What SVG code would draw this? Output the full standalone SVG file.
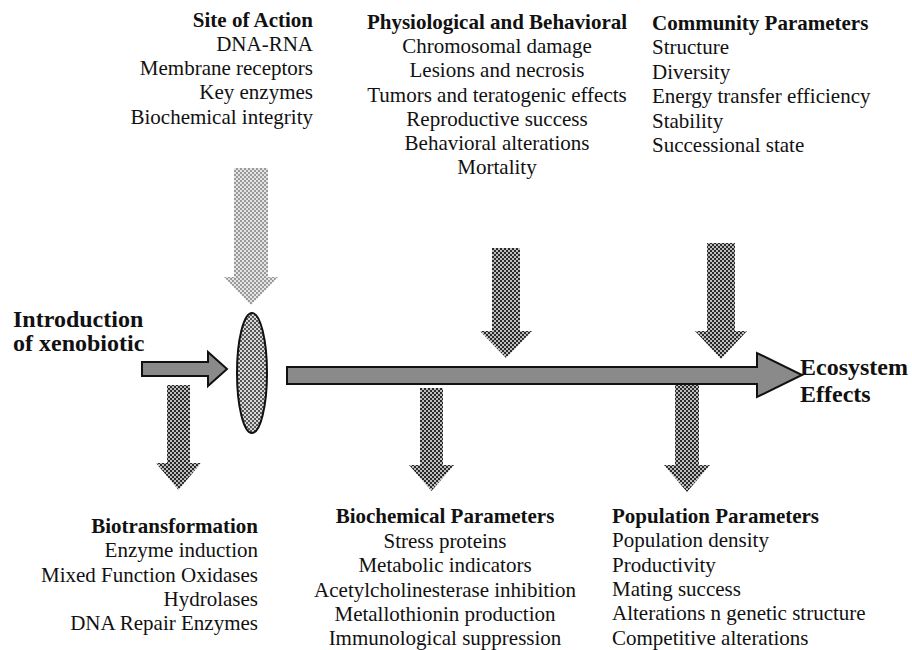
<svg xmlns="http://www.w3.org/2000/svg" width="912" height="650" viewBox="0 0 912 650" font-family="'Liberation Serif', 'Times New Roman', Times, serif">
  <defs>
    <!-- dithered fills for the block arrows -->
    <pattern id="chkDark" width="4" height="4" patternUnits="userSpaceOnUse">
      <rect width="4" height="4" fill="#bdbdbd"/>
      <rect width="2" height="2" fill="#2a2a2a"/>
      <rect x="2" y="2" width="2" height="2" fill="#2a2a2a"/>
    </pattern>
    <pattern id="chkLight" width="4" height="4" patternUnits="userSpaceOnUse">
      <rect width="4" height="4" fill="#e4e4e4"/>
      <rect width="2" height="2" fill="#9a9a9a"/>
      <rect x="2" y="2" width="2" height="2" fill="#9a9a9a"/>
    </pattern>
    <pattern id="chkMid" width="4" height="4" patternUnits="userSpaceOnUse">
      <rect width="4" height="4" fill="#d8d8d8"/>
      <rect width="2" height="2" fill="#555"/>
      <rect x="2" y="2" width="2" height="2" fill="#555"/>
    </pattern>
  </defs>
  <style>
    text { font-family: "Liberation Serif", "Times New Roman", Times, serif; fill: #111; }
    .t { font-size: 21px; }
    .h { font-size: 21px; font-weight: bold; }
    .big { font-size: 24px; font-weight: bold; }
    .flow { fill: #8a8a8a; stroke: #111; stroke-width: 2; stroke-linejoin: miter; }
    .dn { fill: url(#chkDark); }
    .dnL { fill: url(#chkLight); }
  </style>
  <rect width="912" height="650" fill="#fff"/>

  <g id="connectors">
    <!-- main exposure pathway -->
    <polygon class="flow" points="287,367 757,367 757,353 802,375 757,397 757,384 287,384"/>
    <!-- introduction into the organism -->
    <polygon class="flow" points="142,362 208,362 208,352 227,369 208,386 208,376 142,376"/>
    <!-- downward block arrows -->
    <polygon class="dnL" points="234,168 268,168 268,277 278,277 251,305 224,277 234,277"/>
    <polygon class="dn" points="492,248 520,248 520,331 532,331 506,358 480,331 492,331"/>
    <polygon class="dn" points="707,243 735,243 735,331 747,331 721,359 695,331 707,331"/>
    <polygon class="dn" points="167,385 190,385 190,463 201,463 178.5,490 156,463 167,463"/>
    <polygon class="dn" points="420,388 443,388 443,465 454,465 431.5,491 409,465 420,465"/>
    <polygon class="dn" points="675,385 699,385 699,465 710,465 687,492 664,465 675,465"/>
  </g>

  <g id="organism">
    <ellipse cx="252" cy="373" rx="15" ry="60" fill="url(#chkMid)" stroke="#111" stroke-width="2"/>
  </g>

  <g id="introduction">
    <text class="big" x="13" y="327">Introduction</text>
    <text class="big" x="13" y="351">of xenobiotic</text>
  </g>

  <g id="ecosystem">
    <text class="big" x="800" y="375">Ecosystem</text>
    <text class="big" x="800" y="402">Effects</text>
  </g>

  <g id="site-of-action" text-anchor="end">
    <text class="h" x="313" y="27">Site of Action</text>
    <text class="t" x="313" y="51">DNA-RNA</text>
    <text class="t" x="313" y="75">Membrane receptors</text>
    <text class="t" x="313" y="99">Key enzymes</text>
    <text class="t" x="313" y="124">Biochemical integrity</text>
  </g>

  <g id="physiological" text-anchor="middle">
    <text class="h" x="497" y="29">Physiological and Behavioral</text>
    <text class="t" x="497" y="53">Chromosomal damage</text>
    <text class="t" x="497" y="77">Lesions and necrosis</text>
    <text class="t" x="497" y="102">Tumors and teratogenic effects</text>
    <text class="t" x="497" y="126">Reproductive success</text>
    <text class="t" x="497" y="150">Behavioral alterations</text>
    <text class="t" x="497" y="174">Mortality</text>
  </g>

  <g id="community">
    <text class="h" x="652" y="30">Community Parameters</text>
    <text class="t" x="652" y="54">Structure</text>
    <text class="t" x="652" y="79">Diversity</text>
    <text class="t" x="652" y="103">Energy transfer efficiency</text>
    <text class="t" x="652" y="128">Stability</text>
    <text class="t" x="652" y="152">Successional state</text>
  </g>

  <g id="biotransformation" text-anchor="end">
    <text class="h" x="258" y="533">Biotransformation</text>
    <text class="t" x="258" y="557">Enzyme induction</text>
    <text class="t" x="258" y="582">Mixed Function Oxidases</text>
    <text class="t" x="258" y="606">Hydrolases</text>
    <text class="t" x="258" y="630">DNA Repair Enzymes</text>
  </g>

  <g id="biochemical" text-anchor="middle">
    <text class="h" x="445" y="523">Biochemical Parameters</text>
    <text class="t" x="445" y="548">Stress proteins</text>
    <text class="t" x="445" y="572">Metabolic indicators</text>
    <text class="t" x="445" y="597">Acetylcholinesterase inhibition</text>
    <text class="t" x="445" y="621">Metallothionin production</text>
    <text class="t" x="445" y="645">Immunological suppression</text>
  </g>

  <g id="population">
    <text class="h" x="612" y="523">Population Parameters</text>
    <text class="t" x="612" y="547">Population density</text>
    <text class="t" x="612" y="572">Productivity</text>
    <text class="t" x="612" y="596">Mating success</text>
    <text class="t" x="612" y="620">Alterations n genetic structure</text>
    <text class="t" x="612" y="645">Competitive alterations</text>
  </g>
</svg>
